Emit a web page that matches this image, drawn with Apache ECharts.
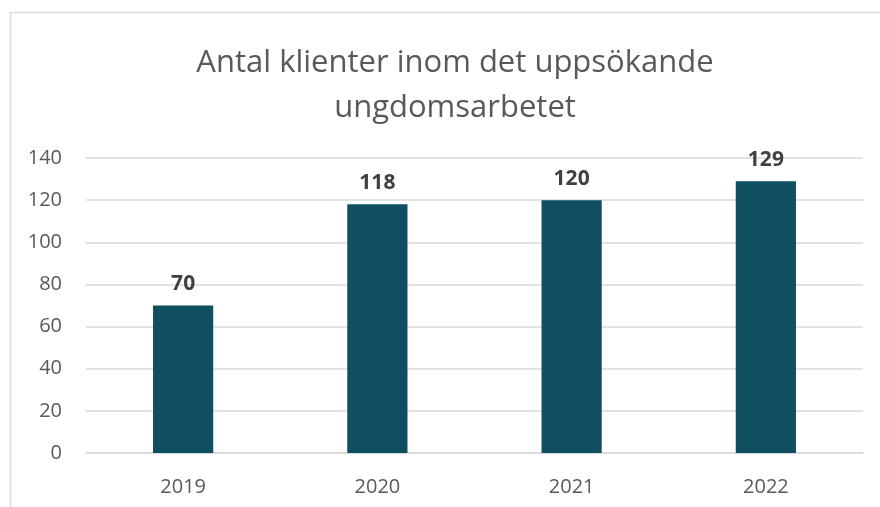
<!DOCTYPE html>
<html>
<head>
<meta charset="utf-8">
<script src="https://cdn.jsdelivr.net/npm/echarts@6/dist/echarts.min.js"></script>
<style>
  html, body { margin: 0; padding: 0; background: #fff; }
  #chart { width: 880px; height: 507px; }
</style>
</head>
<body>
<div id="chart"></div>
<script>
// data
const years = ['2019', '2020', '2021', '2022'];
const klienter = [70, 118, 120, 129];
const titleText = 'Antal klienter inom det uppsökande\nungdomsarbetet';

const font = '"Open Sans", "Noto Sans", sans-serif';
const myChart = echarts.init(document.getElementById('chart'), null, { renderer: 'canvas' });

const option = {
  backgroundColor: '#ffffff',
  animation: false,
  textStyle: { fontFamily: font },
  graphic: [{
    type: 'rect',
    shape: { x: 10.5, y: 12.5, width: 900, height: 520 },
    style: { fill: 'none', stroke: '#d9d9d9', lineWidth: 1.5 },
    silent: true
  }],
  title: {
    text: titleText,
    left: 450,
    textAlign: 'center',
    top: 36,
    textStyle: {
      fontFamily: font,
      fontSize: 31,
      fontWeight: 'normal',
      color: '#595959',
      lineHeight: 45
    }
  },
  grid: {
    left: 86,
    right: 17,
    top: 158,
    bottom: 54,
    containLabel: false
  },
  xAxis: {
    type: 'category',
    data: years,
    axisLine: { show: true, lineStyle: { color: '#d9d9d9', width: 1.5 } },
    axisTick: { show: false },
    axisLabel: {
      margin: 24,
      fontSize: 20,
      color: '#595959',
      fontFamily: font
    }
  },
  yAxis: {
    type: 'value',
    min: 0,
    max: 140,
    interval: 20,
    axisLine: { show: false },
    axisTick: { show: false },
    axisLabel: {
      margin: 24,
      fontSize: 20,
      color: '#595959',
      fontFamily: font
    },
    splitLine: { lineStyle: { color: '#d9d9d9', width: 1.5 } }
  },
  series: [{
    type: 'bar',
    data: klienter,
    barWidth: '31%',
    itemStyle: { color: '#0f4f60' },
    label: {
      show: true,
      position: 'top',
      distance: 11,
      fontSize: 21,
      fontWeight: 'bold',
      color: '#404040',
      fontFamily: font
    }
  }]
};

myChart.setOption(option);
window.addEventListener('resize', () => {
  myChart.resize();
});
</script>
</body>
</html>
